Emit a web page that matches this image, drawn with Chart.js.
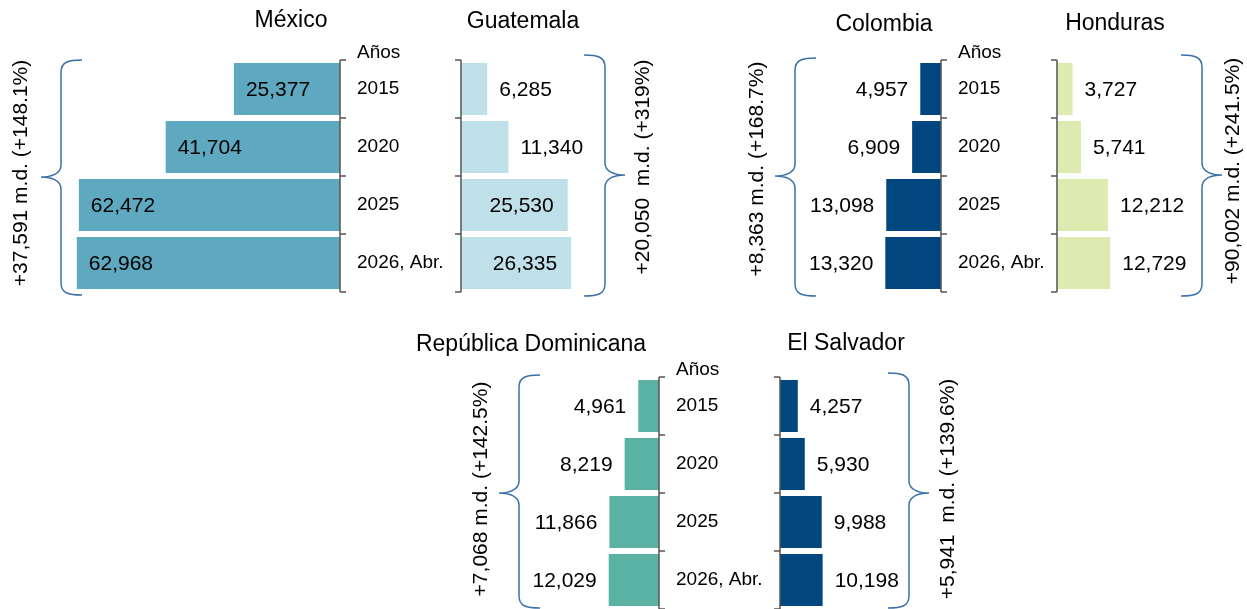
<!DOCTYPE html>
<html>
<head>
<meta charset="utf-8">
<script src="https://cdn.jsdelivr.net/npm/chart.js@4.4.1/dist/chart.umd.min.js"></script>
<style>
    body { margin: 0; background: #fff; }
    #wrap { position: relative; width: 1247px; height: 609px; overflow: hidden; }
    #wrap canvas { position: absolute; left: 0; top: 0; }
</style>
</head>
<body>
<div id="wrap"></div>
<script>
// data (millones de dólares)
const years = ['2015', '2020', '2025', '2026, Abr.'];
const yearsTitle = 'Años';

const mexico = [25377, 41704, 62472, 62968];
const guatemala = [6285, 11340, 25530, 26335];
const colombia = [4957, 6909, 13098, 13320];
const honduras = [3727, 5741, 12212, 12729];
const dominicana = [4961, 8219, 11866, 12029];
const elSalvador = [4257, 5930, 9988, 10198];

const mexicoGrowth = '+37,591 m.d. (+148.1%)';
const guatemalaGrowth = '+20,050  m.d. (+319%)';
const colombiaGrowth = '+8,363 m.d. (+168.7%)';
const hondurasGrowth = '+90,002 m.d. (+241.5%)';
const dominicanaGrowth = '+7,068 m.d. (+142.5%)';
const elSalvadorGrowth = '+5,941  m.d. (+139.6%)';

const W = 1247, H = 609;
const PX_PER_UNIT = 0.00418;   // same scale in every panel
const FONT = '"Liberation Sans", Arial, sans-serif';
const wrap = document.getElementById('wrap');

function drawBrace(ctx, b) {
    const endX = b.spine - b.dir * 21;
    const tipX = b.spine + b.dir * 20;
    ctx.save();
    ctx.strokeStyle = '#3a71a9';
    ctx.lineWidth = 1.5;
    ctx.beginPath();
    ctx.moveTo(endX, b.top);
    ctx.bezierCurveTo(b.spine + (endX - b.spine) * 0.35, b.top, b.spine, b.top + 2, b.spine, b.top + 12);
    ctx.lineTo(b.spine, b.mid - 12);
    ctx.bezierCurveTo(b.spine, b.mid - 3, tipX - b.dir * 10, b.mid, tipX, b.mid);
    ctx.bezierCurveTo(tipX - b.dir * 10, b.mid, b.spine, b.mid + 3, b.spine, b.mid + 12);
    ctx.lineTo(b.spine, b.bottom - 12);
    ctx.bezierCurveTo(b.spine, b.bottom - 2, b.spine + (endX - b.spine) * 0.35, b.bottom, endX, b.bottom);
    ctx.stroke();
    ctx.restore();
}

function panelPlugin(p) {
    return {
        id: 'panel',
        afterDraw(chart) {
            const ctx = chart.ctx;
            const area = chart.chartArea;
            const left = p.grow === 'left';
            const axisX = left ? area.right : area.left;
            const band = (area.bottom - area.top) / years.length;

            // axis with short ticks pointing to the year column
            ctx.save();
            ctx.strokeStyle = '#555';
            ctx.lineWidth = 1.5;
            ctx.beginPath();
            ctx.moveTo(axisX, area.top);
            ctx.lineTo(axisX, area.bottom);
            for (let i = 0; i <= years.length; i++) {
                const y = area.top + i * band;
                ctx.moveTo(axisX, y);
                ctx.lineTo(axisX + (left ? 6 : -6), y);
            }
            ctx.stroke();

            // value labels
            ctx.fillStyle = '#000';
            ctx.font = '21px ' + FONT;
            ctx.textBaseline = 'middle';
            const meta = chart.getDatasetMeta(0);
            meta.data.forEach((bar, i) => {
                const txt = p.values[i].toLocaleString('en-US');
                const width = Math.abs(bar.x - bar.base);
                let x, align;
                if (p.labels === 'insideStart') {
                    x = Math.min(bar.x, bar.base) + 12; align = 'left';
                } else if (p.labels === 'auto' && width > 90) {
                    x = bar.x - 14; align = 'right';
                } else if (left) {
                    x = bar.x - 12; align = 'right';
                } else {
                    x = bar.x + 12; align = 'left';
                }
                ctx.textAlign = align;
                ctx.fillText(txt, x, bar.y + 1);
            });

            // year column
            if (p.showYears) {
                ctx.font = '19px ' + FONT;
                ctx.textAlign = 'left';
                ctx.fillText(yearsTitle, axisX + 17, area.top - 7);
                years.forEach((yr, i) => {
                    ctx.fillText(yr, axisX + 17, area.top + (i + 0.5) * band);
                });
            }

            // title
            ctx.font = '23px ' + FONT;
            ctx.textAlign = 'center';
            ctx.fillText(p.title, p.titleX, p.titleY);

            // brace and growth text
            drawBrace(ctx, p.brace);
            ctx.font = '21px ' + FONT;
            ctx.translate(p.growthX, p.growthY);
            ctx.rotate(-Math.PI / 2);
            ctx.fillText(p.growth, 0, 0);
            ctx.restore();
        }
    };
}

function makePanel(p) {
    const canvas = document.createElement('canvas');
    canvas.width = W;
    canvas.height = H;
    wrap.appendChild(canvas);
    const left = p.grow === 'left';
    const span = left ? Math.min(300, p.axisX) : Math.min(300, W - p.axisX - 1);
    const x0 = left ? p.axisX - span : p.axisX;
    const x1 = x0 + span;

    return new Chart(canvas, {
        type: 'bar',
        data: {
            labels: years,
            datasets: [{
                data: p.values,
                backgroundColor: p.color,
                borderWidth: 0,
                barPercentage: 0.9,
                categoryPercentage: 1
            }]
        },
        options: {
            indexAxis: 'y',
            responsive: false,
            animation: false,
            events: [],
            layout: { padding: { left: x0, right: W - x1, top: p.top, bottom: H - p.bottom } },
            scales: {
                x: { display: false, min: 0, max: span / PX_PER_UNIT, reverse: left },
                y: { display: false }
            },
            plugins: { legend: { display: false }, tooltip: { enabled: false } }
        },
        plugins: [panelPlugin(p)]
    });
}

const TOP = [60, 292];
const BOTTOM = [377, 609];

makePanel({
    title: 'México', titleX: 291, titleY: 21, values: mexico, color: '#5ea8c0',
    grow: 'left', axisX: 340, top: TOP[0], bottom: TOP[1], labels: 'insideStart', showYears: true,
    brace: { spine: 61, dir: -1, top: 60, bottom: 295, mid: 177 },
    growth: mexicoGrowth, growthX: 21, growthY: 173
});
makePanel({
    title: 'Guatemala', titleX: 523, titleY: 22, values: guatemala, color: '#bfe0e8',
    grow: 'right', axisX: 461, top: TOP[0], bottom: TOP[1], labels: 'auto',
    brace: { spine: 605, dir: 1, top: 55, bottom: 296, mid: 175 },
    growth: guatemalaGrowth, growthX: 643, growthY: 167
});
makePanel({
    title: 'Colombia', titleX: 884, titleY: 25, values: colombia, color: '#01467f',
    grow: 'left', axisX: 941, top: TOP[0], bottom: TOP[1], labels: 'outside', showYears: true,
    brace: { spine: 795, dir: -1, top: 58, bottom: 296, mid: 176 },
    growth: colombiaGrowth, growthX: 757, growthY: 169
});
makePanel({
    title: 'Honduras', titleX: 1115, titleY: 24, values: honduras, color: '#ddeab0',
    grow: 'right', axisX: 1057, top: TOP[0], bottom: TOP[1], labels: 'outside',
    brace: { spine: 1202, dir: 1, top: 55, bottom: 296, mid: 175 },
    growth: hondurasGrowth, growthX: 1233, growthY: 171
});
makePanel({
    title: 'República Dominicana', titleX: 531, titleY: 345, values: dominicana, color: '#5ab2a5',
    grow: 'left', axisX: 659, top: BOTTOM[0], bottom: BOTTOM[1], labels: 'outside', showYears: true,
    brace: { spine: 519, dir: -1, top: 375, bottom: 608, mid: 493 },
    growth: dominicanaGrowth, growthX: 481, growthY: 489
});
makePanel({
    title: 'El Salvador', titleX: 846, titleY: 344, values: elSalvador, color: '#03477f',
    grow: 'right', axisX: 780, top: BOTTOM[0], bottom: BOTTOM[1], labels: 'outside',
    brace: { spine: 909, dir: 1, top: 373, bottom: 608, mid: 493 },
    growth: elSalvadorGrowth, growthX: 948, growthY: 489
});
</script>
</body>
</html>
